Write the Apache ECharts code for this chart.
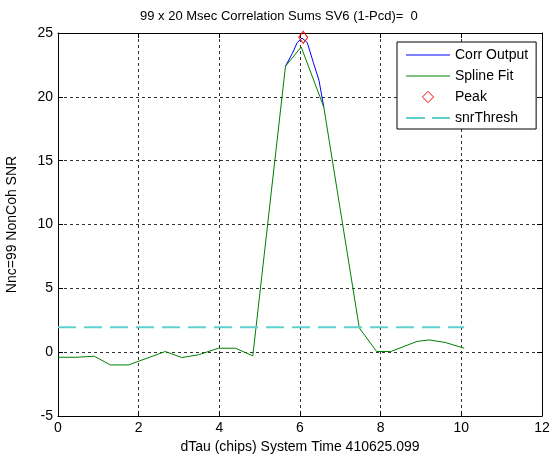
<!DOCTYPE html>
<html><head><meta charset="utf-8">
<script src="https://cdn.jsdelivr.net/npm/echarts@6/dist/echarts.min.js"></script>
<style>html,body{margin:0;padding:0;background:#fff}#c{width:554px;height:458px}</style>
</head><body><div id="c"></div>
<script>
const titleText = '99 x 20 Msec Correlation Sums SV6 (1-Pcd)=  0';
const xName = 'dTau (chips) System Time 410625.099';
const yName = 'Nnc=99 NonCoh SNR';
const seriesNames = ['Corr Output', 'Spline Fit', 'Peak', 'snrThresh'];
const xTicks = [0, 2, 4, 6, 8, 10, 12];
const yTicks = [-5, 0, 5, 10, 15, 20, 25];

const corrX = [5.64, 5.81, 5.93, 6.05, 6.18, 6.34, 6.47, 6.59];
const corrY = [22.4, 23.4, 24.25, 24.6, 24.25, 22.6, 21.3, 19.2];

const splineX = [0, 0.45, 0.9, 1.3, 1.75, 2.66, 3.07, 3.49, 3.98, 4.40, 4.83, 5.64, 6.03, 6.59, 7.47, 7.9, 8.25, 8.9, 9.2, 9.6, 10.07];
const splineY = [-0.4, -0.4, -0.32, -1.0, -1.0, 0.05, -0.42, -0.2, 0.31, 0.31, -0.29, 22.4, 23.9, 19.2, 1.9, 0.05, 0.05, 0.84, 0.96, 0.76, 0.31];

const peakX = [6.08];
const peakY = [24.66];

const threshX = [0, 10.07];
const threshY = [1.95, 1.95];

const zip = (a, b) => a.map((v, i) => [v, b[i]]);
const FONT = 'Liberation Sans, Arial, Helvetica, sans-serif';

const chart = echarts.init(document.getElementById('c'), null, {renderer: 'canvas'});
const xmin = xTicks[0], xmax = xTicks[xTicks.length - 1], xint = xTicks[1] - xTicks[0];
const ymin = yTicks[0], ymax = yTicks[yTicks.length - 1], yint = yTicks[1] - yTicks[0];

const baseAxis = {
  type: 'value',
  axisLine: {show: true, onZero: false, lineStyle: {color: '#000', width: 1}},
  axisTick: {show: true, inside: true, length: 5, lineStyle: {color: '#000'}},
  axisLabel: {show: true, color: '#000', fontSize: 14, fontFamily: FONT, margin: 5},
  splitLine: {show: false}
};
const gridLine = {show: true, lineStyle: {color: '#333', type: [3, 3], width: 1}};

chart.setOption({
  animation: false,
  backgroundColor: '#fff',
  title: {
    text: titleText, left: 135, top: 5,
    textStyle: {fontSize: 13, fontWeight: 'normal', color: '#000', fontFamily: FONT}
  },
  grid: {left: 58, right: 12, top: 33, bottom: 42, containLabel: false, outerBoundsMode: 'none'},
  legend: {
    orient: 'vertical', left: 397, top: 42,
    backgroundColor: '#fff', borderColor: '#000', borderWidth: 1,
    padding: [6, 8, 4, 8], itemWidth: 44, itemHeight: 14, itemGap: 7,
    textStyle: {fontSize: 14, color: '#000', fontFamily: FONT},
    data: [
      {name: seriesNames[0], itemStyle: {opacity: 0}, lineStyle: {width: 1}},
      {name: seriesNames[1], itemStyle: {opacity: 0}, lineStyle: {width: 1}},
      {name: seriesNames[2], itemStyle: {borderWidth: 1, borderColor: '#ff0000', color: 'rgba(255,255,255,0)'}},
      {name: seriesNames[3], itemStyle: {opacity: 0}, lineStyle: {type: [19, 7], width: 2}}
    ]
  },
  xAxis: [
    Object.assign({}, baseAxis, {
      position: 'bottom', min: xmin, max: xmax, interval: xint,
      name: xName, nameLocation: 'middle', nameGap: 24,
      nameTextStyle: {fontSize: 14, color: '#000', fontFamily: FONT},
      splitLine: gridLine
    }),
    Object.assign({}, baseAxis, {
      position: 'top', min: xmin, max: xmax, interval: xint,
      axisLabel: {show: false}
    })
  ],
  yAxis: [
    Object.assign({}, baseAxis, {
      position: 'left', min: ymin, max: ymax, interval: yint,
      name: yName, nameLocation: 'middle', nameGap: 39,
      nameTextStyle: {fontSize: 14, color: '#000', fontFamily: FONT},
      splitLine: gridLine
    }),
    Object.assign({}, baseAxis, {
      position: 'right', min: ymin, max: ymax, interval: yint,
      axisLabel: {show: false}
    })
  ],
  series: [
    {
      name: seriesNames[0], type: 'line', data: zip(corrX, corrY),
      symbol: 'none', lineStyle: {color: '#0000ff', width: 1}, itemStyle: {color: '#0000ff'}
    },
    {
      name: seriesNames[1], type: 'line', data: zip(splineX, splineY),
      symbol: 'none', lineStyle: {color: '#008000', width: 1}, itemStyle: {color: '#008000'}
    },
    {
      name: seriesNames[2], type: 'line', data: zip(peakX, peakY),
      symbol: 'diamond', symbolSize: [9, 12], showSymbol: true, clip: false,
      lineStyle: {width: 0, color: '#ff0000'},
      itemStyle: {color: 'rgba(255,255,255,0)', borderColor: '#ff0000', borderWidth: 1}
    },
    {
      name: seriesNames[3], type: 'line', data: zip(threshX, threshY),
      symbol: 'none', lineStyle: {color: '#5fcfcf', width: 2, type: [18, 8]}, itemStyle: {color: '#5fcfcf'}
    }
  ]
});
</script>
</body></html>
